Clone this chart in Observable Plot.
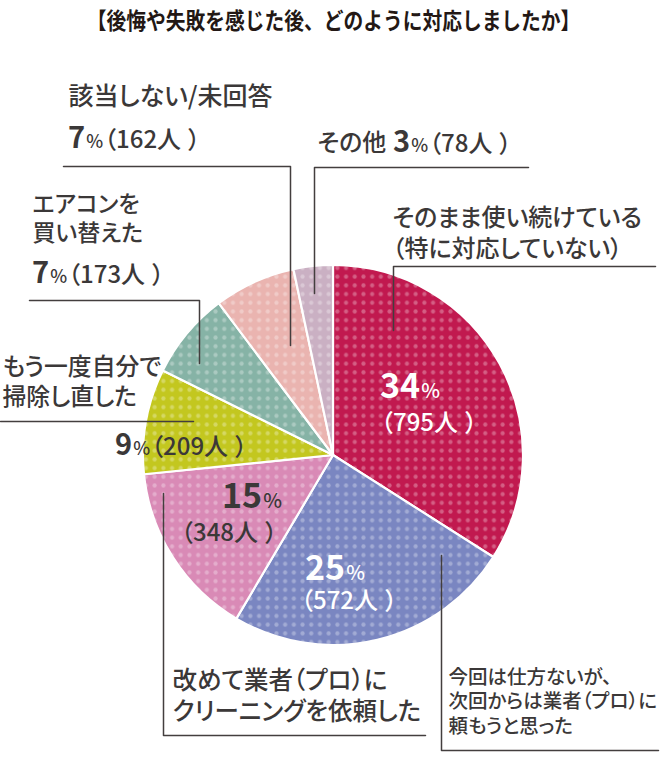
<!DOCTYPE html>
<html><head><meta charset="utf-8">
<script src="https://cdn.jsdelivr.net/npm/d3@7"></script>
<script src="https://cdn.jsdelivr.net/npm/@observablehq/plot@0.6"></script>
<style>
body{margin:0;background:#fff;}
#title{height:36px;line-height:40px;text-align:center;font-family:"Noto Sans CJK JP",sans-serif;font-weight:700;font-size:22.7px;color:#231815;white-space:nowrap;}
#title span{display:inline-block;transform:scaleX(0.87);}
.cat text{font-feature-settings:"palt";}
.par{font-feature-settings:"palt";}
</style></head><body>
<div id="title"><span>【後悔や失敗を感じた後、どのように対応しましたか】</span></div>
<div id="chart"></div>
<script>
// ---- data ----
const categories = [
  "そのまま使い続けている（特に対応していない）",
  "今回は仕方ないが、次回からは業者（プロ）に頼もうと思った",
  "改めて業者（プロ）にクリーニングを依頼した",
  "もう一度自分で掃除し直した",
  "エアコンを買い替えた",
  "該当しない/未回答",
  "その他"
];
const categoryLines = [
  ["そのまま使い続けている", "（特に対応していない）"],
  ["今回は仕方ないが、", "次回からは業者（プロ）に", "頼もうと思った"],
  ["改めて業者（プロ）に", "クリーニングを依頼した"],
  ["もう一度自分で", "掃除し直した"],
  ["エアコンを", "買い替えた"],
  ["該当しない/未回答"],
  ["その他"]
];
const percents = [34, 25, 15, 9, 7, 7, 3];
const counts = [795, 572, 348, 209, 173, 162, 78];
const colors = ["#C1194F", "#7A86C1", "#D98AB6", "#C3C71F", "#86B3A6", "#EAB4B0", "#CAB0C3"];

// ---- layout ----
const W = 668, H = 757, TOP = 36;
const pieGeom = {cx: 333, cy: 455, r: 190};
const catLayout = [
  {x: 392, y: 231, size: 24},
  {x: 448, y: 700, size: 19.5},
  {x: 172, y: 694, size: 24.5},
  {x: 2, y: 380, size: 23.8},
  {x: 32, y: 217, size: 23},
  {x: 68, y: 94, size: 25},
  {x: 317, y: 141, size: 24}
];
const valueLayout = [
  {x: 380, y: 398, x2: 380, y2: 431, big: 34, small: 20, par: 24, color: "#fff"},
  {x: 305, y: 580, x2: 300, y2: 609, big: 34, small: 20, par: 24, color: "#fff"},
  {x: 222, y: 508, x2: 180, y2: 541, big: 34, small: 20, par: 24, color: "#3b3838"},
  {x: 115, y: 455, big: 29, small: 18, par: 24, color: "#3b3838"},
  {x: 32, y: 283, big: 29, small: 18, par: 24, color: "#3b3838"},
  {x: 68, y: 148, big: 29, small: 18, par: 24, color: "#3b3838"},
  {x: 393, y: 152, big: 29, small: 18, par: 24, color: "#3b3838"}
];
const leaderPaths = [
  [[655, 266], [393, 266], [393, 330]],
  [[658, 750], [441, 750], [441, 555]],
  [[425, 735], [163, 735], [163, 493]],
  [[0, 421], [193, 421]],
  [[29, 300], [199, 300], [199, 363]],
  [[63, 166], [290, 166], [290, 345]],
  [[528, 167], [314, 167], [314, 293]]
];

const leaders = leaderPaths.flatMap((pts, i) => pts.map(([x, y]) => ({id: i, x, y})));
const catLabels = categoryLines.map((lines, i) => ({text: lines.join("\n"), ...catLayout[i]}));

function pieMark(index, scales) {
  const g = d3.create("svg:g");
  const defs = g.append("defs");
  const s = 8.7;
  colors.forEach((c, i) => {
    const p = defs.append("pattern").attr("id", "dots" + i)
      .attr("patternUnits", "userSpaceOnUse").attr("width", s).attr("height", s);
    p.append("rect").attr("width", s).attr("height", s).attr("fill", c);
    p.append("circle").attr("cx", s / 2).attr("cy", s / 2).attr("r", 2.1)
      .attr("fill", "#fff").attr("fill-opacity", 0.3);
  });
  const arcs = d3.pie().sort(null).value(d => d)(counts);
  const arc = d3.arc().innerRadius(0).outerRadius(pieGeom.r);
  g.append("g")
    .attr("transform", `translate(${scales.x(pieGeom.cx)},${scales.y(pieGeom.cy)})`)
    .selectAll("path").data(arcs).join("path")
    .attr("d", arc)
    .attr("fill", (d, i) => `url(#dots${i})`)
    .attr("stroke", "#fff").attr("stroke-width", 2.2).attr("stroke-linejoin", "round")
    .append("title").text((d, i) => `${categories[i]}: ${percents[i]}% (${counts[i]}人)`);
  return g.node();
}

function addCount(t, i, size) {
  t.append("tspan").attr("class", "par").attr("font-size", size).attr("font-weight", 500).attr("dx", 1).text("（");
  t.append("tspan").attr("font-size", size).attr("font-weight", 500).text(`${counts[i]}人`);
  t.append("tspan").attr("class", "par").attr("font-size", size).attr("font-weight", 500).attr("dx", 7).text("）");
}

function valueMark(index, scales) {
  const g = d3.create("svg:g").attr("font-family", '"Noto Sans CJK JP", sans-serif')
    .attr("text-anchor", "start");
  valueLayout.forEach((L, i) => {
    const t = g.append("text").attr("x", scales.x(L.x)).attr("y", scales.y(L.y)).attr("fill", L.color);
    t.append("tspan").attr("font-size", L.big).attr("font-weight", 700).text(percents[i]);
    t.append("tspan").attr("font-size", L.small).attr("font-weight", 500).attr("dx", 1).text("%");
    if (L.x2 != null) {
      const t2 = g.append("text").attr("x", scales.x(L.x2)).attr("y", scales.y(L.y2)).attr("fill", L.color);
      addCount(t2, i, L.par);
    } else {
      addCount(t, i, L.par);
    }
  });
  return g.node();
}

const chart = Plot.plot({
  width: W,
  height: H - TOP,
  margin: 0,
  x: {domain: [0, W], range: [0, W], axis: null},
  y: {domain: [TOP, H], range: [0, H - TOP], axis: null},
  style: {fontFamily: '"Noto Sans CJK JP", sans-serif', background: "#fff", overflow: "visible"},
  marks: [
    pieMark,
    Plot.line(leaders, {x: "x", y: "y", z: "id", stroke: "#433e3e", strokeWidth: 1.5}),
    Plot.text(catLabels, {x: "x", y: "y", text: "text", textAnchor: "start", lineAnchor: "middle",
      fontSize: d => d.size, lineHeight: 1.27, fill: "#3b3838", fontWeight: 500, className: "cat"}),
    valueMark
  ]
});
document.getElementById("chart").appendChild(chart);
</script>
</body></html>
